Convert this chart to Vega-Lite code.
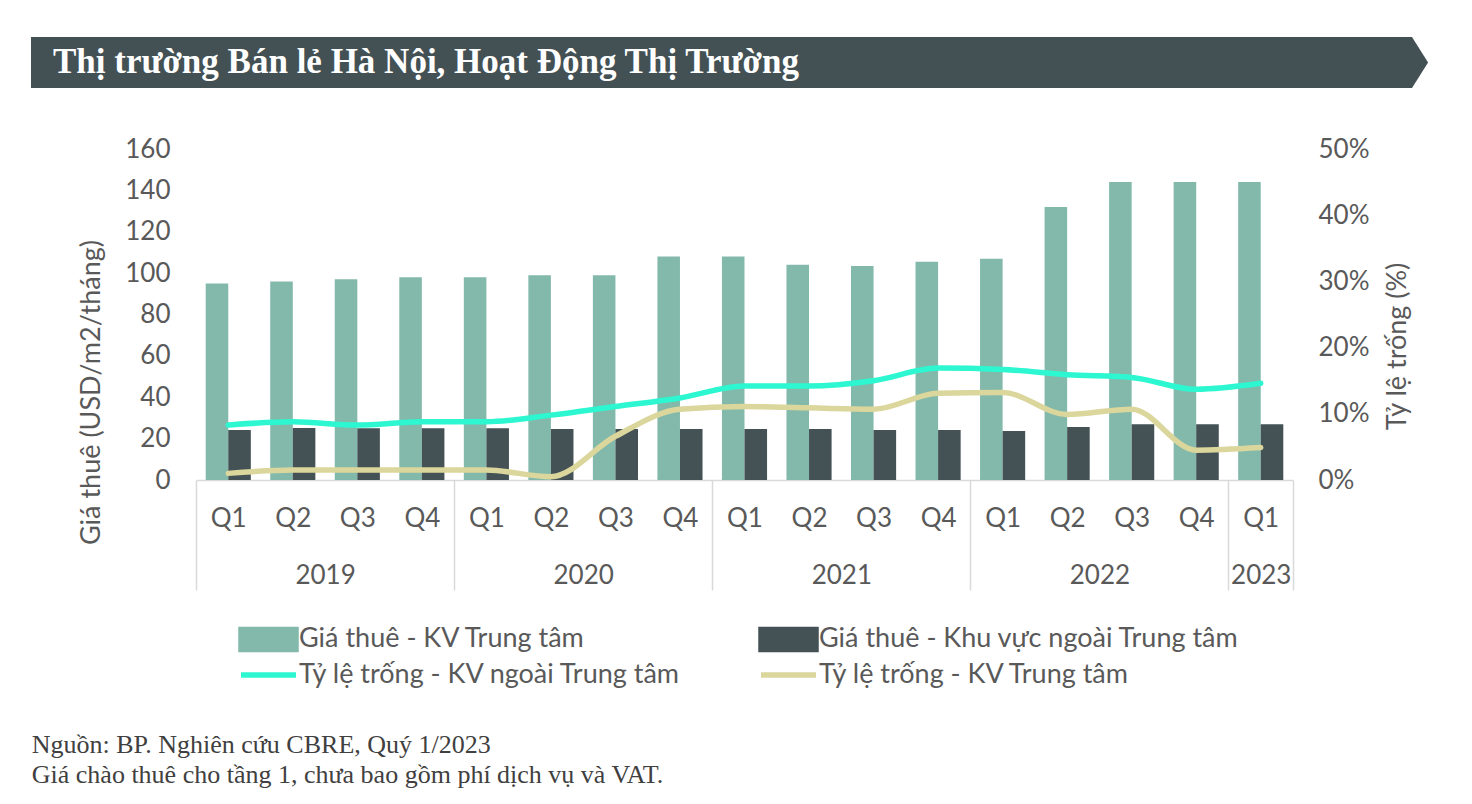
{
  "$schema": "https://vega.github.io/schema/vega-lite/v6.json",
  "background": "white",
  "padding": {"left": 28, "top": 37, "right": 0, "bottom": 0},
  "spacing": 48,
  "title": {
    "text": ["Nguồn: BP. Nghiên cứu CBRE, Quý 1/2023", "Giá chào thuê cho tầng 1, chưa bao gồm phí dịch vụ và VAT."],
    "orient": "bottom",
    "anchor": "start",
    "offset": 44,
    "dx": 3,
    "font": "Liberation Serif",
    "fontSize": 26,
    "fontWeight": "normal",
    "color": "#404040",
    "lineHeight": 30
  },
  "datasets": {
    "market": [
      {"period": "2019 Q1", "rent_center": 95, "rent_outer": 24.2, "vac_outer": 0.083, "vac_center": 0.010},
      {"period": "2019 Q2", "rent_center": 96, "rent_outer": 25.1, "vac_outer": 0.088, "vac_center": 0.015},
      {"period": "2019 Q3", "rent_center": 97, "rent_outer": 25.0, "vac_outer": 0.083, "vac_center": 0.015},
      {"period": "2019 Q4", "rent_center": 98, "rent_outer": 25.0, "vac_outer": 0.088, "vac_center": 0.015},
      {"period": "2020 Q1", "rent_center": 98, "rent_outer": 25.0, "vac_outer": 0.088, "vac_center": 0.015},
      {"period": "2020 Q2", "rent_center": 99, "rent_outer": 24.6, "vac_outer": 0.098, "vac_center": 0.005},
      {"period": "2020 Q3", "rent_center": 99, "rent_outer": 24.6, "vac_outer": 0.111, "vac_center": 0.066},
      {"period": "2020 Q4", "rent_center": 108, "rent_outer": 24.6, "vac_outer": 0.124, "vac_center": 0.107},
      {"period": "2021 Q1", "rent_center": 108, "rent_outer": 24.6, "vac_outer": 0.142, "vac_center": 0.111},
      {"period": "2021 Q2", "rent_center": 104, "rent_outer": 24.6, "vac_outer": 0.142, "vac_center": 0.109},
      {"period": "2021 Q3", "rent_center": 103.5, "rent_outer": 24.2, "vac_outer": 0.150, "vac_center": 0.107},
      {"period": "2021 Q4", "rent_center": 105.5, "rent_outer": 24.2, "vac_outer": 0.169, "vac_center": 0.131},
      {"period": "2022 Q1", "rent_center": 107, "rent_outer": 23.7, "vac_outer": 0.167, "vac_center": 0.132},
      {"period": "2022 Q2", "rent_center": 132, "rent_outer": 25.6, "vac_outer": 0.159, "vac_center": 0.099},
      {"period": "2022 Q3", "rent_center": 144, "rent_outer": 27, "vac_outer": 0.155, "vac_center": 0.107},
      {"period": "2022 Q4", "rent_center": 144, "rent_outer": 27, "vac_outer": 0.137, "vac_center": 0.045},
      {"period": "2023 Q1", "rent_center": 144, "rent_outer": 27, "vac_outer": 0.146, "vac_center": 0.049}
    ]
  },
  "config": {
    "view": {"stroke": null},
    "font": "Lato",
    "axis": {"labelFont": "Lato", "titleFont": "Lato", "labelColor": "#595959", "titleColor": "#595959", "labelFontSize": 26, "titleFontSize": 27, "titleFontWeight": "normal", "grid": false}
  },
  "vconcat": [
    {
      "width": 1381,
      "height": 51,
      "view": {"fill": "#435155", "stroke": null},
      "title": {
        "text": "Thị trường Bán lẻ Hà Nội, Hoạt Động Thị Trường",
        "orient": "top",
        "anchor": "start",
        "offset": -39,
        "dx": 22,
        "dy": 32,
        "baseline": "alphabetic",
        "font": "Liberation Serif",
        "fontSize": 35,
        "fontWeight": "bold",
        "color": "#FFFFFF"
      },
      "data": {"values": [{"shape": "arrow"}]},
      "mark": {"type": "point", "shape": "M0,-1L0.63,0L0,1Z", "size": 2601, "filled": true, "color": "#435155", "opacity": 1},
      "encoding": {"x": {"value": "width"}}
    },
    {
      "spacing": 42,
      "hconcat": [
        {
          "width": 1,
          "height": 1,
          "data": {"values": [{"spacer": 1}]},
          "mark": {"type": "point", "opacity": 0}
        },
        {
          "width": 1097,
          "height": 331,
          "data": {"name": "market"},
          "transform": [{"window": [{"op": "row_number", "as": "idx"}]}],
          "layer": [
            {
              "transform": [
                {"fold": ["rent_center", "rent_outer"], "as": ["key", "value"]},
                {"calculate": "datum.key == 'rent_center' ? 'Giá thuê - KV Trung tâm' : 'Giá thuê - Khu vực ngoài Trung tâm'", "as": "series"}
              ],
              "mark": {"type": "bar"},
              "encoding": {
                "x": {
                  "field": "period", "type": "ordinal",
                  "scale": {"paddingInner": 0, "paddingOuter": 0},
                  "axis": {"title": null, "values": ["2019 Q1", "2020 Q1", "2021 Q1", "2022 Q1", "2023 Q1"], "labels": false, "bandPosition": 0, "ticks": true, "tickSize": 110, "tickColor": "#D9D9D9", "tickWidth": 1.5, "domain": true, "domainColor": "#D9D9D9", "domainWidth": 1.5}
                },
                "xOffset": {
                  "field": "series", "type": "nominal",
                  "scale": {"domain": ["Giá thuê - KV Trung tâm", "Giá thuê - Khu vực ngoài Trung tâm"], "paddingInner": 0, "paddingOuter": 0.43}
                },
                "y": {
                  "field": "value", "type": "quantitative",
                  "scale": {"domain": [0, 160], "nice": false},
                  "axis": {"title": "Giá thuê (USD/m2/tháng)", "values": [0, 20, 40, 60, 80, 100, 120, 140, 160], "domain": false, "ticks": false, "labelPadding": 26, "titlePadding": 19, "titleY": 243}
                },
                "color": {
                  "field": "series", "type": "nominal",
                  "scale": {
                    "domain": ["Giá thuê - KV Trung tâm", "Giá thuê - Khu vực ngoài Trung tâm", "Tỷ lệ trống - KV ngoài Trung tâm", "Tỷ lệ trống - KV Trung tâm"],
                    "range": ["#83B9AB", "#445256", "#2CF7D1", "#DBD69C"]
                  },
                  "legend": {
                    "title": null,
                    "orient": "none",
                    "legendX": 223.5,
                    "legendY": 588,
                    "direction": "horizontal",
                    "columns": 2,
                    "columnPadding": 68,
                    "rowPadding": -4,
                    "labelFont": "Lato",
                    "labelFontSize": 27,
                    "labelColor": "#595959",
                    "labelOffset": 16.5,
                    "labelLimit": 600,
                    "symbolSize": 484,
                    "encode": {
                      "symbols": {
                        "update": {
                          "shape": {"signal": "indexof(datum.value, 'Tỷ') == 0 ? 'M-2.5,0H2.5' : 'M-2.5,-0.91H2.5V0.91H-2.5Z'"},
                          "fill": {"signal": "datum.value == 'Giá thuê - KV Trung tâm' ? '#83B9AB' : datum.value == 'Giá thuê - Khu vực ngoài Trung tâm' ? '#445256' : 'transparent'"},
                          "stroke": {"signal": "datum.value == 'Tỷ lệ trống - KV ngoài Trung tâm' ? '#2CF7D1' : datum.value == 'Tỷ lệ trống - KV Trung tâm' ? '#DBD69C' : 'transparent'"},
                          "strokeWidth": {"value": 5.5},
                          "size": {"value": 484},
                          "opacity": {"value": 1},
                          "fillOpacity": {"value": 1},
                          "strokeOpacity": {"value": 1}
                        }
                      }
                    }
                  }
                }
              }
            },
            {
              "transform": [
                {"fold": ["vac_outer", "vac_center"], "as": ["key", "value"]},
                {"calculate": "datum.key == 'vac_outer' ? 'Tỷ lệ trống - KV ngoài Trung tâm' : 'Tỷ lệ trống - KV Trung tâm'", "as": "series"}
              ],
              "mark": {"type": "line", "strokeWidth": 5.5, "interpolate": "monotone", "strokeCap": "round"},
              "encoding": {
                "x": {
                  "field": "idx", "type": "quantitative",
                  "scale": {"domain": [0.5, 17.5], "nice": false, "zero": false},
                  "axis": {
                    "title": null,
                    "orient": "bottom",
                    "values": [1, 2, 2.5, 3, 4, 5, 6, 6.5, 7, 8, 9, 10, 10.5, 11, 12, 13, 14, 14.5, 15, 16, 17, 17.5],
                    "labelExpr": "datum.value == 17.5 ? '' : datum.value == 17 ? ['Q1', '2023'] : datum.value % 1 != 0 ? ['', datum.value == 2.5 ? '2019' : datum.value == 6.5 ? '2020' : datum.value == 10.5 ? '2021' : '2022'] : 'Q' + ((datum.value - 1) % 4 + 1)",
                    "labelLineHeight": 57,
                    "domain": false,
                    "grid": false,
                    "ticks": true,
                    "tickSize": 110,
                    "tickColor": "#D9D9D9",
                    "tickWidth": 1.5,
                    "tickOpacity": {"condition": {"test": "datum.value == 17.5", "value": 1}, "value": 0},
                    "labelPadding": -85,
                    "labelFlush": false,
                    "labelOverlap": false,
                    "labelBound": false
                  }
                },
                "y": {
                  "field": "value", "type": "quantitative",
                  "scale": {"domain": [0, 0.5], "nice": false},
                  "axis": {"orient": "right", "title": "Tỷ lệ trống (%)", "format": ".0%", "values": [0, 0.1, 0.2, 0.3, 0.4, 0.5], "domain": false, "ticks": false, "labelPadding": 25, "titlePadding": 16, "titleAngle": 270, "titleBaseline": "top", "titleY": 197}
                },
                "color": {"field": "series", "type": "nominal"}
              }
            }
          ],
          "resolve": {"scale": {"x": "independent", "y": "independent"}}
        }
      ]
    }
  ]
}
